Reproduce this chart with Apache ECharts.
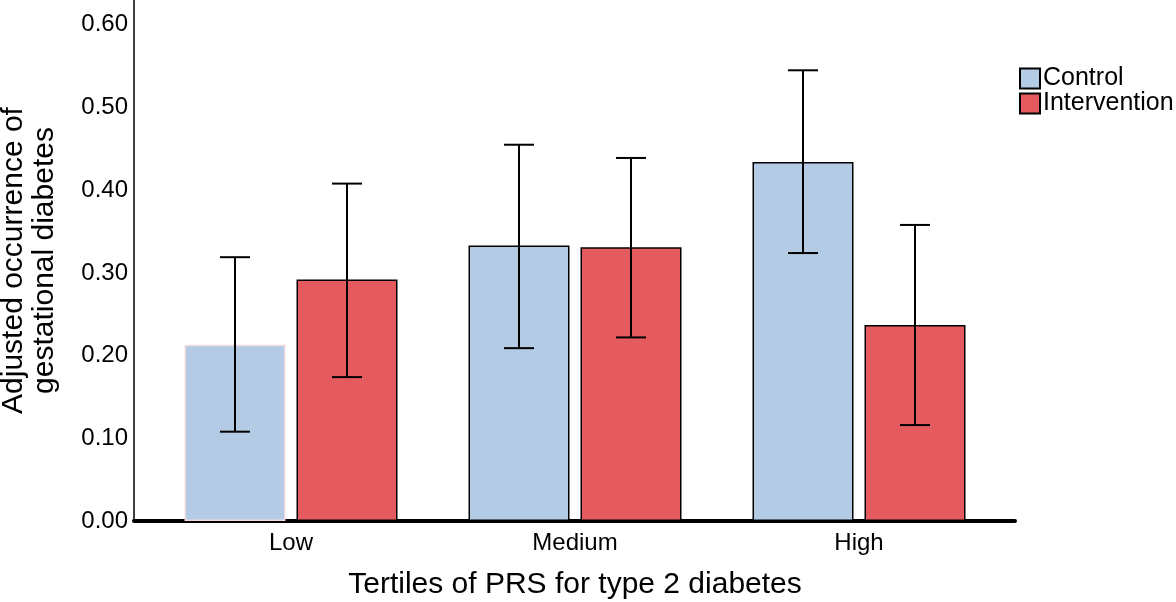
<!DOCTYPE html>
<html>
<head>
<meta charset="utf-8">
<script src="https://cdn.jsdelivr.net/npm/echarts@6/dist/echarts.min.js"></script>
<style>html,body{margin:0;padding:0;background:#fff}#c{width:1176px;height:602px}</style>
</head>
<body>
<div id="c"></div>
<script>
const categories = ['Low', 'Medium', 'High'];
const controlValues = [0.213, 0.333, 0.434];
const controlLower = [0.108, 0.209, 0.324];
const controlUpper = [0.319, 0.455, 0.545];
const interventionValues = [0.292, 0.331, 0.237];
const interventionLower = [0.174, 0.222, 0.116];
const interventionUpper = [0.408, 0.439, 0.358];
const yTicks = [0, 0.1, 0.2, 0.3, 0.4, 0.5, 0.6];

const FONT = 'Liberation Sans, Arial, Helvetica, sans-serif';
const BAR_W = 101;
const BAR_GAP = 11;
const HALF_OFF = (BAR_W + BAR_GAP) / 2;

function errorSeries(lower, upper, sign) {
  return {
    type: 'custom',
    xAxisIndex: 0, yAxisIndex: 0,
    z: 10,
    data: categories.map((c, i) => [i, lower[i], upper[i]]),
    renderItem: function (params, api) {
      const lo = api.coord([api.value(0), api.value(1)]);
      const hi = api.coord([api.value(0), api.value(2)]);
      const x = lo[0] + sign * HALF_OFF;
      const cap = 15;
      const style = { stroke: '#000', lineWidth: 2 };
      return {
        type: 'group',
        children: [
          { type: 'line', shape: { x1: x, y1: lo[1], x2: x, y2: hi[1] }, style },
          { type: 'line', shape: { x1: x - cap, y1: lo[1], x2: x + cap, y2: lo[1] }, style },
          { type: 'line', shape: { x1: x - cap, y1: hi[1], x2: x + cap, y2: hi[1] }, style }
        ]
      };
    }
  };
}

const chart = echarts.init(document.getElementById('c'));
chart.setOption({
  animation: false,
  backgroundColor: '#fff',
  textStyle: { fontFamily: FONT },
  grid: [
    { left: 149, right: 175, top: 0, bottom: 81, outerBoundsMode: 'none', containLabel: false },
    { left: 134, right: 161, top: 0, bottom: 81, outerBoundsMode: 'none', containLabel: false }
  ],
  legend: {
    orient: 'vertical',
    left: 1019,
    top: 66,
    itemWidth: 20,
    itemHeight: 20,
    itemGap: 0,
    icon: 'rect',
    padding: 0,
    textStyle: { fontFamily: FONT, fontSize: 25, color: '#000', lineHeight: 20, padding: [0, 0, 0, -2] },
    data: ['Control', 'Intervention']
  },
  xAxis: [
    {
      type: 'category', gridIndex: 0, data: categories,
      axisLine: { show: false }, axisTick: { show: false },
      axisLabel: { fontSize: 24, color: '#000', margin: 10, fontFamily: FONT },
      name: 'Tertiles of PRS for type 2 diabetes',
      nameLocation: 'middle', nameGap: 49,
      nameTextStyle: { fontSize: 30, color: '#000', fontFamily: FONT }
    },
    {
      type: 'category', gridIndex: 1, data: categories,
      axisLine: { show: true, lineStyle: { color: '#000', width: 4 } },
      axisTick: { show: false }, axisLabel: { show: false }
    }
  ],
  yAxis: [
    {
      type: 'value', gridIndex: 0, min: 0, max: 0.63, interval: 0.1,
      offset: 15,
      axisLine: { show: true, lineStyle: { color: '#000', width: 1.5 } },
      axisTick: { show: false }, splitLine: { show: false },
      axisLabel: {
        fontSize: 24, color: '#000', margin: 6, fontFamily: FONT,
        formatter: function (v) {
          const t = yTicks.find(k => Math.abs(k - v) < 1e-6);
          return t === undefined ? '' : t.toFixed(2);
        }
      },
      name: 'Adjusted occurrence of\ngestational diabetes',
      nameLocation: 'middle', nameGap: 74,
      nameTextStyle: { fontSize: 30, color: '#000', lineHeight: 31, fontFamily: FONT }
    },
    {
      type: 'value', gridIndex: 1, min: 0, max: 0.63, show: false
    }
  ],
  series: [
    {
      name: 'Control', type: 'bar', xAxisIndex: 0, yAxisIndex: 0,
      barWidth: BAR_W, barGap: (BAR_GAP / BAR_W * 100) + '%',
      itemStyle: { color: '#b3cbe4', borderColor: '#000', borderWidth: 1.5 },
      data: controlValues.map((v, i) => i === 0
        ? { value: v, itemStyle: { borderColor: '#f3dadd', borderWidth: 1.5 } }
        : v)
    },
    {
      name: 'Intervention', type: 'bar', xAxisIndex: 0, yAxisIndex: 0,
      barWidth: BAR_W,
      itemStyle: { color: '#e55a5e', borderColor: '#000', borderWidth: 1.5 },
      data: interventionValues
    },
    errorSeries(controlLower, controlUpper, -1),
    errorSeries(interventionLower, interventionUpper, 1)
  ]
});
</script>
</body>
</html>
